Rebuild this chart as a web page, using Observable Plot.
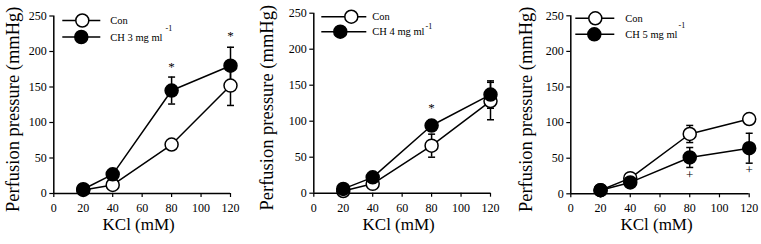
<!DOCTYPE html>
<html>
<head>
<meta charset="utf-8">
<script src="https://cdn.jsdelivr.net/npm/d3@7"></script>
<script src="https://cdn.jsdelivr.net/npm/@observablehq/plot@0.6"></script>
<style>
  html, body { margin: 0; padding: 0; background: #fff; }
  #row { display: flex; flex-direction: row; width: 761px; height: 244px; }
  svg { display: block; }
</style>
</head>
<body>
<div id="row"></div>
<script>
// ---- data ----
const kcl = [20, 40, 80, 120];
const xTicks = [0, 20, 40, 60, 80, 100, 120];
const yTicks = [0, 50, 100, 150, 200, 250];

const p1Con = [5, 12, 69, 152];
const p1ConSE = [0, 0, 3, 28];
const p1CH = [6, 27, 145, 180];
const p1CHSE = [0, 0, 19, 26];
const p1SigX = [80, 120];
const p1SigY = [178, 222];
const p1SigText = ["*", "*"];

const p2Con = [3, 13, 66, 128];
const p2ConSE = [0, 0, 16, 26];
const p2CH = [6, 22, 94, 137];
const p2CHSE = [0, 0, 8, 19];
const p2SigX = [80];
const p2SigY = [119];
const p2SigText = ["*"];

const p3Con = [5, 22, 84, 105];
const p3ConSE = [0, 0, 12, 5];
const p3CH = [5, 16, 51, 64];
const p3CHSE = [0, 0, 14, 21];
const p3SigX = [80, 120];
const p3SigY = [27, 34];
const p3SigText = ["+", "+"];

const conLabel = "Con";
const chLabels = ["CH 3 mg ml", "CH 4 mg ml", "CH 5 mg ml"];
const yLabel = "Perfusion pressure (mmHg)";
const xLabel = "KCl (mM)";

// ---- layout per panel ----
const panels = [
  { w: 254, ml: 53.3, mr: 24, mt: 15.5, mb: 51, con: p1Con, conSE: p1ConSE, ch: p1CH, chSE: p1CHSE,
    sx: p1SigX, sy: p1SigY, st: p1SigText, ch_label: chLabels[0],
    leg: { x1: 9, x2: 47, conC: 29, chC: 28, y1: 5, y2: 21.5, tx: 57, supDx: 3, supDy: -10 }, ylx: 13 },
  { w: 254, ml: 59.3, mr: 18, mt: 12.7, mb: 51.3, con: p2Con, conSE: p2ConSE, ch: p2CH, chSE: p2CHSE,
    sx: p2SigX, sy: p2SigY, st: p2SigText, ch_label: chLabels[1],
    leg: { x1: 8, x2: 53, conC: 38, chC: 27, y1: 4, y2: 19, tx: 59, supDx: 1, supDy: -6 }, ylx: 13 },
  { w: 253, ml: 62.3, mr: 12.3, mt: 15.3, mb: 50.7, con: p3Con, conSE: p3ConSE, ch: p3CH, chSE: p3CHSE,
    sx: p3SigX, sy: p3SigY, st: p3SigText, ch_label: chLabels[2],
    leg: { x1: 5, x2: 44, conC: 25, chC: 24, y1: 3, y2: 19, tx: 55, supDx: 1, supDy: -10 }, ylx: 18 }
];

const FONT = "'Liberation Serif', 'Times New Roman', Times, serif";

// horizontal cap symbol for error bars
const capSymbol = {
  draw(context, size) {
    const w = Math.sqrt(size / Math.PI);
    context.moveTo(-w, 0);
    context.lineTo(w, 0);
  }
};

const row = document.getElementById("row");

panels.forEach((p) => {
  const conRows = kcl.map((k, i) => ({ k, v: p.con[i], e: p.conSE[i] }));
  const chRows = kcl.map((k, i) => ({ k, v: p.ch[i], e: p.chSE[i] }));
  const errRows = [...conRows, ...chRows].filter(d => d.e > 0);
  const sigRows = p.sx.map((x, i) => ({ x, y: p.sy[i], t: p.st[i] }));

  const chart = Plot.plot({
    width: p.w,
    height: 244,
    marginLeft: p.ml,
    marginRight: p.mr,
    marginTop: p.mt,
    marginBottom: p.mb,
    style: { fontFamily: FONT, fontSize: "12px", color: "#000", background: "#fff" },
    x: { domain: [0, 120] },
    y: { domain: [0, 250] },
    marks: [
      Plot.axisX({ ticks: xTicks, tickSize: 4, tickPadding: 6, label: null, fontSize: 12, stroke: "#000", strokeWidth: 1.2 }),
      Plot.axisY({ ticks: yTicks, tickSize: 4, tickPadding: 3, label: null, fontSize: 12, stroke: "#000", strokeWidth: 1.2 }),
      Plot.ruleY([0], { stroke: "#000", strokeWidth: 1.5 }),
      Plot.ruleX([0], { stroke: "#000", strokeWidth: 1.5 }),
      Plot.line(conRows, { x: "k", y: "v", stroke: "#000", strokeWidth: 1.5 }),
      Plot.line(chRows, { x: "k", y: "v", stroke: "#000", strokeWidth: 1.5 }),
      Plot.ruleX(errRows, { x: "k", y1: d => d.v - d.e, y2: d => d.v + d.e, stroke: "#000", strokeWidth: 1.5 }),
      Plot.dot(errRows, { x: "k", y: d => d.v - d.e, symbol: capSymbol, r: 3.5, stroke: "#000", strokeWidth: 1.5 }),
      Plot.dot(errRows, { x: "k", y: d => d.v + d.e, symbol: capSymbol, r: 3.5, stroke: "#000", strokeWidth: 1.5 }),
      Plot.dot(conRows, { x: "k", y: "v", r: 6.5, fill: "#fff", stroke: "#000", strokeWidth: 1.5 }),
      Plot.dot(chRows, { x: "k", y: "v", r: 6.5, fill: "#000", stroke: "#000", strokeWidth: 1.5 }),
      Plot.text(sigRows, { x: "x", y: "y", text: "t", fontSize: 13, fill: "#000", lineAnchor: "middle" })
    ]
  });

  const svg = d3.select(chart);
  const L = p.leg;
  const g = svg.append("g").attr("transform", `translate(${p.ml},${p.mt})`)
    .attr("text-anchor", "start").attr("font-family", FONT).attr("fill", "#000");
  // legend: Con
  g.append("line").attr("x1", L.x1).attr("x2", L.x2).attr("y1", L.y1).attr("y2", L.y1)
    .attr("stroke", "#000").attr("stroke-width", 1.5);
  g.append("circle").attr("cx", L.conC).attr("cy", L.y1).attr("r", 6.5)
    .attr("fill", "#fff").attr("stroke", "#000").attr("stroke-width", 1.5);
  g.append("text").attr("x", L.tx).attr("y", L.y1).attr("dy", "0.35em")
    .attr("font-size", 10.5).text(conLabel);
  // legend: CH
  g.append("line").attr("x1", L.x1).attr("x2", L.x2).attr("y1", L.y2).attr("y2", L.y2)
    .attr("stroke", "#000").attr("stroke-width", 1.5);
  g.append("circle").attr("cx", L.chC).attr("cy", L.y2).attr("r", 6.5)
    .attr("fill", "#000").attr("stroke", "#000").attr("stroke-width", 1.5);
  const t = g.append("text").attr("x", L.tx).attr("y", L.y2 + 3.7)
    .attr("font-size", 10.5);
  t.append("tspan").text(p.ch_label);
  t.append("tspan").attr("dx", L.supDx).attr("dy", L.supDy).attr("font-size", 8).text("-1");

  // axis titles
  const fw = p.w - p.ml - p.mr;
  const fh = 244 - p.mt - p.mb;
  svg.append("text")
    .attr("transform", `translate(${p.ylx},${p.mt + fh / 2 + 5}) rotate(-90)`)
    .attr("text-anchor", "middle").attr("dy", "0.35em")
    .attr("font-size", 18.5).attr("font-family", FONT).attr("fill", "#000")
    .text(yLabel);
  svg.append("text")
    .attr("x", p.ml + fw / 2 - 3).attr("y", 230)
    .attr("text-anchor", "middle")
    .attr("font-size", 17).attr("font-family", FONT).attr("fill", "#000")
    .text(xLabel);

  row.appendChild(chart);
});
</script>
</body>
</html>
